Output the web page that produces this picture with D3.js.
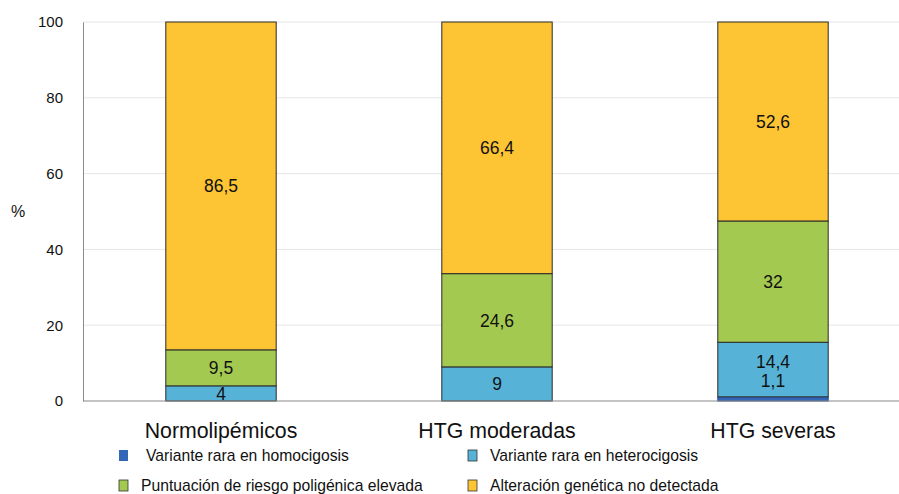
<!DOCTYPE html>
<html>
<head>
<meta charset="utf-8">
<script src="https://cdn.jsdelivr.net/npm/d3@7"></script>
<style>
  body { margin: 0; background: #fff; }
  svg { display: block; font-family: "Liberation Sans", Arial, Helvetica, sans-serif; }
</style>
</head>
<body>
<svg id="chart" width="899" height="494"></svg>
<script>
// Distribution of genetic findings (%) by lipid group
const categories = ["Normolipémicos", "HTG moderadas", "HTG severas"];
const seriesNames = [
  "Variante rara en homocigosis",
  "Variante rara en heterocigosis",
  "Puntuación de riesgo poligénica elevada",
  "Alteración genética no detectada"
];
const homocigosis   = [0, 0, 1.1];
const heterocigosis = [4, 9, 14.4];
const poligenica    = [9.5, 24.6, 32];
const noDetectada   = [86.5, 66.4, 52.6];
const yTicks = [0, 20, 40, 60, 80, 100];

const colors = ["#3466b8", "#56b3d7", "#a4c951", "#fdc434"];
const seriesValues = [homocigosis, heterocigosis, poligenica, noDetectada];

const svg = d3.select("#chart");
const margin = { left: 83, top: 22, right: 0, bottom: 93 };
const W = 899, H = 494;
const plotBottom = H - margin.bottom;

const x = d3.scaleBand().domain(categories).range([margin.left, 911]).paddingInner(0.6).paddingOuter(0.3);
const y = d3.scaleLinear().domain([0, 100]).range([plotBottom, margin.top]);

// grid lines
svg.append("g").selectAll("line").data(yTicks.filter(t => t > 0)).join("line")
  .attr("x1", margin.left).attr("x2", W)
  .attr("y1", d => y(d)).attr("y2", d => y(d))
  .attr("stroke", "#e6e6e6").attr("stroke-width", 1);

// y axis
const yAxis = svg.append("g").attr("transform", `translate(${margin.left},0)`)
  .call(d3.axisLeft(y).tickValues(yTicks).tickSize(0).tickPadding(20));
yAxis.select(".domain").attr("stroke", "#8a8a8a");
yAxis.selectAll("text").attr("font-size", 15).attr("fill", "#111")
  .attr("font-family", "'Liberation Sans', Arial, sans-serif");

svg.append("text").attr("x", 18).attr("y", y(50) + 5)
  .attr("text-anchor", "middle").attr("font-size", 16).attr("fill", "#111").text("%");

// stacked data
const rows = categories.map((c, i) => {
  const r = { cat: c };
  seriesNames.forEach((s, k) => r[s] = seriesValues[k][i]);
  return r;
});
const stacked = d3.stack().keys(seriesNames)(rows);

const bw = x.bandwidth();
stacked.forEach((layer, k) => {
  svg.append("g").selectAll("rect").data(layer.filter(d => d[1] - d[0] > 0)).join("rect")
    .attr("x", d => x(d.data.cat))
    .attr("width", bw)
    .attr("y", d => y(Math.min(d[1], 100)))
    .attr("height", d => y(d[0]) - y(Math.min(d[1], 100)))
    .attr("fill", colors[k])
    .attr("stroke", k === 0 ? "#2a4f8f" : "#2b2b2b")
    .attr("stroke-width", 1);
});

// baseline
svg.append("line").attr("x1", margin.left).attr("x2", W)
  .attr("y1", plotBottom).attr("y2", plotBottom)
  .attr("stroke", "#8a8a8a").attr("stroke-width", 1.2);

// value labels
const fmt = v => String(v).replace(".", ",");
categories.forEach((c, i) => {
  const cx = x(c) + bw / 2;
  const het = stacked[1][i];
  const hasHomo = stacked[0][i][1] - stacked[0][i][0] > 0;
  stacked.forEach((layer, k) => {
    const d = layer[i];
    const v = d[1] - d[0];
    if (v <= 0) return;
    let cy = (y(d[0]) + y(Math.min(d[1], 100))) / 2;
    if (k === 0) {
      // thin segment: label sits inside the segment above it
      cy = (y(het[0]) + y(het[1])) / 2 + 11;
    } else if (k === 1 && hasHomo) {
      cy -= 8;
    }
    svg.append("text").attr("x", cx).attr("y", cy).attr("dy", "0.36em")
      .attr("text-anchor", "middle").attr("font-size", 17.5).attr("fill", "#111")
      .text(fmt(seriesValues[k][i]));
  });
});

// category labels
svg.append("g").selectAll("text").data(categories).join("text")
  .attr("x", d => x(d) + bw / 2).attr("y", 438)
  .attr("text-anchor", "middle").attr("font-size", 21.3).attr("fill", "#111")
  .text(d => d);

// legend
const legendPos = [
  { sx: 119, tx: 146, y: 456 },
  { sx: 468, tx: 490, y: 456 },
  { sx: 119, tx: 141, y: 486 },
  { sx: 468, tx: 490, y: 486 }
];
const lg = svg.append("g");
seriesNames.forEach((s, k) => {
  const p = legendPos[k];
  lg.append("rect").attr("x", p.sx).attr("y", p.y - 6).attr("width", 9).attr("height", 11)
    .attr("fill", colors[k]).attr("stroke", k === 0 ? "none" : "#333").attr("stroke-width", 0.8);
  lg.append("text").attr("x", p.tx).attr("y", p.y).attr("dy", "0.35em")
    .attr("font-size", 15.7).attr("fill", "#111").text(s);
});
</script>
</body>
</html>
